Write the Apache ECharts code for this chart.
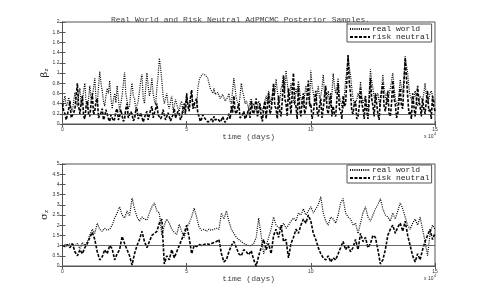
<!DOCTYPE html>
<html>
<head>
<meta charset="utf-8">
<script src="https://cdn.jsdelivr.net/npm/echarts@6/dist/echarts.min.js"></script>
<style>html,body{margin:0;padding:0;background:#fff}#c{width:481px;height:300px}</style>
</head>
<body>
<div id="c"></div>
<script>
const titleText = 'Real World and Risk Neutral AdPMCMC Posterior Samples.';
const seriesNames = ['real world', 'risk neutral'];
const xTicks = [0, 50000, 100000, 150000];
const betaStepDays = 500;
const sigmaStepDays = 1000;
const trueBeta = 0.2;
const trueSigma = 1;

// beta_z, real world (dotted), one value every 500 days
const rwBeta = [0.30,0.45,0.55,0.35,0.40,0.52,0.50,0.30,0.25,0.45,0.62,0.40,0.35,0.58,0.70,0.38,0.45,0.65,0.80,0.42,
0.30,0.50,0.75,0.48,0.55,0.70,0.90,0.50,0.40,0.72,1.03,0.80,0.65,0.45,0.35,0.55,0.70,0.60,0.85,0.50,
0.30,0.48,0.60,0.42,0.75,0.50,0.25,0.40,0.55,0.78,1.02,0.60,0.45,0.30,0.35,0.62,0.80,0.55,0.50,0.28,
0.30,0.45,0.65,0.85,0.97,0.50,0.40,0.70,1.00,0.75,0.55,0.68,0.90,0.60,0.45,0.38,0.70,0.95,1.29,1.10,
0.85,0.55,0.40,0.50,0.60,0.38,0.30,0.45,0.55,0.28,0.35,0.48,0.50,0.30,0.25,0.40,0.45,0.22,0.30,0.42,
0.55,0.40,0.35,0.50,0.60,0.42,0.45,0.30,0.35,0.70,0.85,0.92,0.95,0.98,1.00,0.96,0.98,0.90,0.80,0.70,
0.65,0.60,0.70,0.58,0.55,0.62,0.60,0.50,0.50,0.58,0.55,0.45,0.45,0.52,0.60,0.45,0.40,0.65,0.90,0.70,
0.50,0.42,0.35,0.55,0.80,0.65,0.55,0.40,0.45,0.38,0.30,0.42,0.50,0.35,0.40,0.30,0.25,0.35,0.45,0.38,
0.30,0.25,0.35,0.45,0.55,0.40,0.65,0.50,0.40,0.58,0.75,0.60,0.88,0.65,0.50,0.45,0.70,0.78,0.95,0.65,
1.05,0.80,0.60,0.55,0.80,0.62,0.45,0.38,0.70,0.60,0.84,0.65,0.50,0.40,0.35,0.55,0.75,0.60,0.55,0.42,
1.05,0.75,0.60,0.45,0.40,0.58,0.75,0.50,0.55,0.70,0.97,0.62,0.45,0.50,0.65,0.40,0.35,0.60,0.99,0.75,
0.60,0.72,0.90,0.55,0.45,0.35,0.30,0.55,0.85,1.05,1.33,1.10,0.95,0.70,0.50,0.38,0.35,0.48,0.60,0.52,
0.83,0.55,0.40,0.48,0.55,0.35,0.30,0.62,1.07,0.85,0.70,0.52,0.45,0.55,0.60,0.42,0.35,0.65,0.97,0.70,
0.55,0.45,0.40,0.58,0.70,0.85,1.00,0.72,0.50,0.40,0.35,0.60,0.87,0.70,0.60,0.90,1.33,1.15,1.00,0.70,
0.55,0.48,0.40,0.52,0.65,0.45,0.35,0.42,0.55,0.50,0.45,0.60,0.80,0.55,0.40,0.48,0.60,0.65,0.55,0.48,0.40];
// beta_z, risk neutral (dashed), one value every 500 days
const rnBeta = [0.40,0.25,0.20,0.08,0.10,0.30,0.45,0.12,0.15,0.22,0.30,0.55,0.80,0.35,0.20,0.40,0.55,0.15,0.10,0.35,
0.45,0.20,0.15,0.40,0.60,0.18,0.25,0.45,0.50,0.12,0.10,0.22,0.30,0.08,0.15,0.28,0.25,0.10,0.05,0.18,
0.20,0.06,0.10,0.25,0.30,0.08,0.15,0.28,0.25,0.05,0.10,0.30,0.40,0.12,0.15,0.24,0.20,0.06,0.10,0.26,
0.30,0.10,0.15,0.22,0.20,0.04,0.05,0.20,0.25,0.08,0.10,0.28,0.35,0.12,0.15,0.30,0.40,0.18,0.20,0.10,
0.15,0.28,0.25,0.08,0.10,0.22,0.20,0.06,0.05,0.18,0.30,0.12,0.10,0.25,0.20,0.08,0.15,0.30,0.40,0.20,
0.60,0.35,0.25,0.50,0.67,0.30,0.30,0.45,0.50,0.20,0.15,0.05,0.10,0.18,0.20,0.10,0.08,0.04,0.02,0.06,
0.10,0.04,0.15,0.08,0.05,0.10,0.12,0.04,0.08,0.14,0.15,0.03,0.05,0.12,0.20,0.10,0.35,0.22,0.55,0.25,
0.20,0.30,0.40,0.12,0.10,0.18,0.25,0.10,0.15,0.22,0.30,0.12,0.45,0.25,0.20,0.35,0.50,0.15,0.25,0.40,
0.15,0.05,0.30,0.45,0.10,0.35,0.60,0.20,0.25,0.50,0.80,0.35,0.30,0.10,0.55,0.25,0.15,0.45,0.95,0.50,
0.40,0.15,0.70,0.45,0.20,0.60,1.00,0.40,0.35,0.10,0.75,0.30,0.15,0.45,0.60,0.20,0.30,0.55,0.85,0.35,
0.40,0.10,0.20,0.45,0.65,0.25,0.15,0.35,0.50,0.12,0.30,0.55,0.75,0.30,0.20,0.40,0.60,0.15,0.35,0.20,
0.15,0.50,0.80,0.30,0.25,0.10,0.55,0.35,0.40,0.85,1.35,0.80,0.60,0.25,0.20,0.40,0.45,0.10,0.15,0.35,
0.70,0.40,0.30,0.10,0.55,0.25,0.10,0.45,0.90,0.50,0.35,0.15,0.60,0.40,0.20,0.08,0.50,0.65,0.80,0.35,
0.25,0.45,0.65,0.20,0.15,0.40,0.85,0.50,0.40,0.12,0.20,0.45,0.70,0.35,0.30,0.80,1.30,0.90,0.55,0.20,
0.25,0.10,0.60,0.35,0.15,0.40,0.75,0.45,0.35,0.15,0.50,0.30,0.20,0.45,0.65,0.25,0.30,0.10,0.55,0.35,0.25];
// sigma_z, real world (dotted), one value every 1000 days
const rwSigma = [1.00,1.05,0.95,1.10,1.05,1.00,1.10,0.85,1.15,1.00,1.20,1.50,1.80,1.60,2.10,1.80,1.70,1.85,1.75,1.80,
2.00,2.35,2.60,2.90,2.50,2.35,2.70,2.45,3.33,2.80,2.40,2.20,2.40,2.30,2.25,2.60,2.90,3.09,2.70,2.60,
1.50,2.00,2.30,2.10,1.80,1.65,1.55,2.05,1.70,1.40,1.90,2.10,2.40,2.84,2.40,1.90,1.75,1.80,1.70,1.80,
1.75,1.80,1.85,1.80,2.60,2.30,2.70,2.20,1.80,1.60,1.40,1.30,1.20,1.10,1.05,1.00,1.00,1.10,1.40,2.35,
1.50,0.60,1.00,1.40,1.80,2.40,2.00,1.90,1.80,2.10,1.85,2.00,2.20,2.35,2.20,2.60,2.50,2.80,2.50,2.70,
2.90,2.60,2.80,3.00,3.40,2.60,2.20,2.00,2.40,2.30,2.10,2.50,3.10,3.30,2.60,2.40,2.30,2.00,2.10,1.60,
2.10,2.60,2.90,2.40,2.20,2.50,2.80,3.00,3.30,2.80,2.50,2.40,2.20,2.60,2.30,2.70,3.10,2.80,2.40,2.00,
1.80,2.10,2.30,2.00,2.40,1.80,1.20,0.50,1.60,2.00,1.80];
// sigma_z, risk neutral (dashed), one value every 1000 days
const rnSigma = [1.00,0.95,1.05,0.90,1.10,0.70,0.50,0.80,0.60,0.90,1.10,1.40,1.65,1.30,0.70,0.30,0.45,0.80,0.60,1.00,
0.85,0.30,0.60,0.80,1.45,1.10,0.80,0.50,0.05,0.60,1.00,1.30,1.70,1.20,0.90,1.20,1.50,1.60,1.70,2.10,
2.30,0.10,0.50,0.30,0.80,0.40,0.70,1.00,1.30,1.60,2.00,1.40,0.60,1.00,0.95,1.05,1.00,1.05,1.10,1.05,
1.10,1.15,1.20,1.30,0.60,0.20,0.30,0.70,1.00,1.20,0.90,0.60,0.50,0.80,0.70,0.55,0.75,0.30,0.00,0.50,
0.90,1.30,0.80,1.10,0.60,1.50,1.80,1.40,2.00,1.20,1.30,0.40,1.10,1.40,1.80,1.60,2.00,2.30,2.10,2.50,
2.20,1.60,1.30,0.90,0.60,0.40,0.30,0.50,0.20,0.40,0.30,0.60,0.90,1.20,0.80,1.00,0.70,0.90,1.30,0.80,
1.60,1.20,1.40,0.90,1.10,1.50,1.40,0.80,0.10,0.30,0.80,1.50,1.80,2.00,1.60,1.90,2.10,1.70,2.20,1.50,
1.00,0.50,0.20,0.60,0.30,0.80,1.20,1.50,1.80,1.30,1.60];

const pairs = (arr, step) => arr.map((v, i) => [i * step, v]);

const mono = 'Liberation Mono';
const axisColor = '#555';
const textColor = '#444';

function bottomX(g) {
  return {
    type: 'value', gridIndex: g, min: xTicks[0], max: xTicks[xTicks.length - 1], interval: xTicks[1] - xTicks[0],
    axisLine: { show: true, lineStyle: { color: axisColor, width: 1 } },
    axisTick: { show: true, inside: true, length: 3, lineStyle: { color: axisColor } },
    axisLabel: { fontSize: 5, color: '#333', margin: 3, formatter: v => String(v / 10000) },
    splitLine: { show: false },
    name: 'time (days)', nameLocation: 'middle', nameGap: 9, nameMoveOverlap: false,
    nameTextStyle: { fontFamily: mono, fontSize: 8, color: textColor }
  };
}
function topX(g) {
  return {
    type: 'value', gridIndex: g, position: 'top', min: xTicks[0], max: xTicks[xTicks.length - 1], interval: xTicks[1] - xTicks[0],
    axisLine: { show: true, lineStyle: { color: axisColor } },
    axisTick: { show: true, inside: true, length: 3, lineStyle: { color: axisColor } },
    axisLabel: { show: false }, splitLine: { show: false }
  };
}
function leftY(g, max, interval, nameMain) {
  return {
    type: 'value', gridIndex: g, min: 0, max: max, interval: interval,
    axisLine: { show: true, lineStyle: { color: axisColor } },
    axisTick: { show: true, inside: true, length: 3, lineStyle: { color: axisColor } },
    axisLabel: { fontSize: 5, color: '#333', margin: 3 },
    splitLine: { show: false },
    name: '{a|' + nameMain + '}{b|z}', nameLocation: 'middle', nameGap: 13, nameRotate: 90, nameMoveOverlap: false,
    nameTextStyle: { color: '#222', rich: { a: { fontSize: 10, fontFamily: 'DejaVu Serif', color: '#222' }, b: { fontSize: 6, color: '#222', verticalAlign: 'bottom', padding: [4, 0, 0, 0] } } }
  };
}
function rightY(g, max, interval) {
  return {
    type: 'value', gridIndex: g, position: 'right', min: 0, max: max, interval: interval,
    axisLine: { show: true, lineStyle: { color: axisColor } },
    axisTick: { show: true, inside: true, length: 3, lineStyle: { color: axisColor } },
    axisLabel: { show: false }, splitLine: { show: false }
  };
}
function legendAt(top) {
  return {
    data: seriesNames, orient: 'vertical', left: 347, top: top,
    itemWidth: 20, itemHeight: 8, itemGap: 0, padding: [1, 2, 1, 2],
    borderColor: '#555', borderWidth: 1, backgroundColor: '#fff',
    itemStyle: { opacity: 0 },
    textStyle: { fontFamily: mono, fontSize: 8, color: '#222', padding: [0, 0, 0, -3] }
  };
}
const dottedStyle = { type: [1, 1.2], width: 1.2, color: '#000' };
const dashedStyle = { type: [3, 1.5], width: 1.6, color: '#000' };
function refLine(v) {
  return { silent: true, symbol: 'none', label: { show: false }, lineStyle: { type: 'solid', color: '#444', width: 0.8 }, data: [{ yAxis: v }] };
}

const chart = echarts.init(document.getElementById('c'), null, { renderer: 'canvas' });
chart.setOption({
  animation: false,
  backgroundColor: '#fff',
  title: { text: titleText, left: 'center', top: 11, textStyle: { fontFamily: mono, fontSize: 8, fontWeight: 'normal', color: textColor } },
  grid: [
    { left: 62.5, top: 22, width: 372.5, height: 102, show: true, borderColor: axisColor, borderWidth: 1 },
    { left: 62.5, top: 164, width: 372.5, height: 102, show: true, borderColor: axisColor, borderWidth: 1 }
  ],
  xAxis: [bottomX(0), bottomX(1), topX(0), topX(1)],
  yAxis: [leftY(0, 2, 0.2, 'β'), leftY(1, 5, 0.5, 'σ'), rightY(0, 2, 0.2), rightY(1, 5, 0.5)],
  legend: [legendAt(24), legendAt(165)],
  series: [
    { name: seriesNames[0], type: 'line', xAxisIndex: 0, yAxisIndex: 0, symbol: 'none', lineStyle: dottedStyle, itemStyle: { color: '#000' }, data: pairs(rwBeta, betaStepDays), markLine: refLine(trueBeta) },
    { name: seriesNames[1], type: 'line', xAxisIndex: 0, yAxisIndex: 0, symbol: 'none', lineStyle: dashedStyle, itemStyle: { color: '#000' }, data: pairs(rnBeta, betaStepDays) },
    { name: seriesNames[0], type: 'line', xAxisIndex: 1, yAxisIndex: 1, symbol: 'none', lineStyle: dottedStyle, itemStyle: { color: '#000' }, data: pairs(rwSigma, sigmaStepDays), markLine: refLine(trueSigma) },
    { name: seriesNames[1], type: 'line', xAxisIndex: 1, yAxisIndex: 1, symbol: 'none', lineStyle: dashedStyle, itemStyle: { color: '#000' }, data: pairs(rnSigma, sigmaStepDays) }
  ],
  graphic: [
    { type: 'text', left: 424, top: 134, style: { text: 'x 10', fontSize: 5, fill: '#333' } },
    { type: 'text', left: 434, top: 132, style: { text: '4', fontSize: 4, fill: '#333' } },
    { type: 'text', left: 424, top: 276, style: { text: 'x 10', fontSize: 5, fill: '#333' } },
    { type: 'text', left: 434, top: 274, style: { text: '4', fontSize: 4, fill: '#333' } }
  ]
});
</script>
</body>
</html>
